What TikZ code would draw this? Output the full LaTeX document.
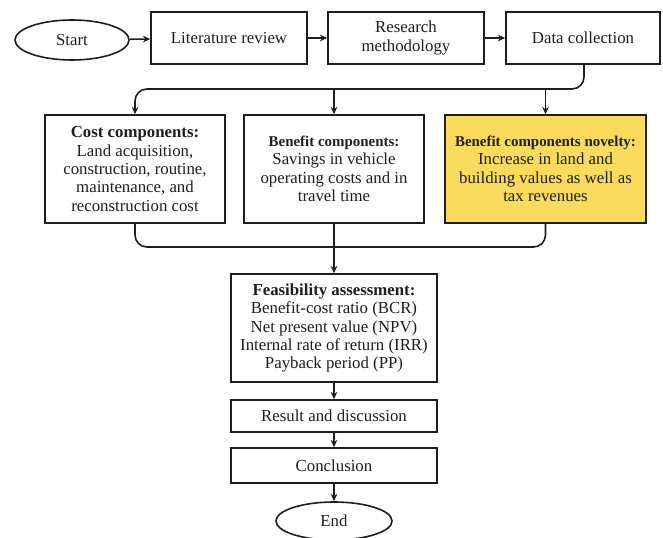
\documentclass[tikz,border=0pt]{standalone}
\usepackage{fontspec}
\setmainfont{Liberation Serif}
\usetikzlibrary{positioning, shapes.geometric, arrows.meta}

\definecolor{novelty}{RGB}{250,219,92}
\definecolor{ink}{RGB}{30,30,30}

\tikzset{
    stepbox/.style={rectangle, draw=ink, line width=1.2pt, align=center, text=ink, inner sep=2pt},
    terminal/.style={ellipse, draw=ink, line width=1.2pt, text=ink, inner sep=0pt},
    link/.style={draw=ink, line width=1.2pt, -{Stealth[length=5.5pt,width=5pt]}},
    bus/.style={draw=ink, line width=1.2pt, rounded corners=9pt}
}

\begin{document}
\begin{tikzpicture}[x=0.75pt, y=-0.75pt, font=\fontsize{12.6}{13.8}\selectfont]

    \useasboundingbox (0,0) rectangle (663,538);

    % top row
    \node[terminal, minimum width=85.5pt, minimum height=30pt] (start) at (72,40) {Start};
    \node[stepbox, minimum width=117pt, minimum height=39pt] (lit) at (229,38) {Literature review};
    \node[stepbox, minimum width=117pt, minimum height=39pt] (meth) at (406,38) {Research\\methodology};
    \node[stepbox, minimum width=115.5pt, minimum height=39pt] (data) at (583,38) {Data collection};

    % components
    \node[stepbox, minimum width=135pt, minimum height=81pt] (cost) at (135,169)
        {\textbf{Cost components:}\\Land acquisition,\\construction, routine,\\maintenance, and\\reconstruction cost};
    \node[stepbox, minimum width=135pt, minimum height=81pt] (benefit) at (334,169)
        {\textbf{\fontsize{11.2}{13.8}\selectfont Benefit components:}\\Savings in vehicle\\operating costs and in\\travel time};
    \node[stepbox, minimum width=150.75pt, minimum height=81pt, fill=novelty] (novel) at (545.5,169)
        {\textbf{\fontsize{11.2}{13.8}\selectfont Benefit components novelty:}\\Increase in land and\\building values as well as\\tax revenues};

    % assessment and end
    \node[stepbox, minimum width=154.5pt, minimum height=81pt] (feas) at (334,328)
        {\textbf{Feasibility assessment:}\\Benefit-cost ratio (BCR)\\Net present value (NPV)\\Internal rate of return (IRR)\\Payback period (PP)};
    \node[stepbox, minimum width=154.5pt, minimum height=24pt] (result) at (334,416) {Result and discussion};
    \node[stepbox, minimum width=154.5pt, minimum height=26.25pt] (concl) at (334,465.5) {Conclusion};
    \node[terminal, minimum width=87pt, minimum height=28.5pt] (end) at (334,521) {End};

    \coordinate (split) at (0,89);
    \coordinate (merge) at (0,247);

    \draw[link] (start) -- (lit);
    \draw[link] (lit) -- (meth);
    \draw[link] (meth) -- (data);

    \draw[bus, link] (data.south -| 584,0) -- (584,0 |- split) -- (cost.north |- split) -- (cost.north);
    \draw[link] (benefit.north |- split) -- (benefit.north);
    \draw[link] (novel.north |- split) -- (novel.north);

    \draw[bus] (cost.south) -- (cost.south |- merge) -- (novel.south |- merge) -- (novel.south);
    \draw[link] (benefit.south) -- (feas.north);

    \draw[link] (feas) -- (result);
    \draw[link] (result) -- (concl);
    \draw[link] (concl) -- (end);

\end{tikzpicture}
\end{document}
